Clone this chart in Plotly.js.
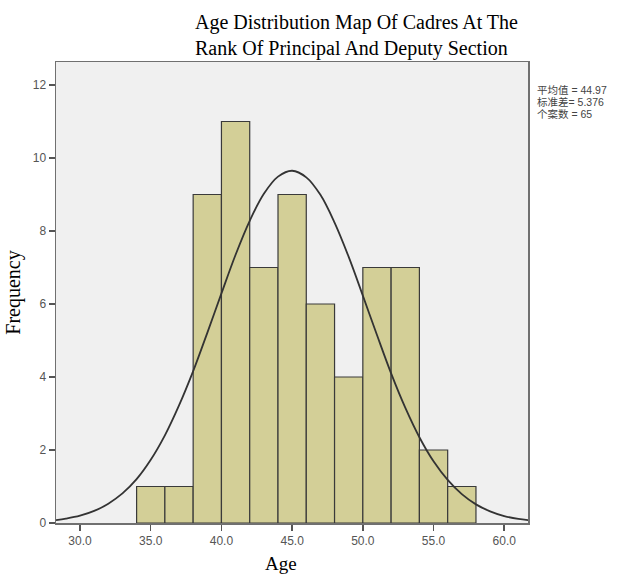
<!DOCTYPE html>
<html>
<head>
<meta charset="utf-8">
<script src="https://cdn.plot.ly/plotly-3.0.1.min.js"></script>
<style>html,body{margin:0;padding:0;background:#fff;}#chart{width:619px;height:574px;}</style>
</head>
<body>
<div id="chart"></div>
<script>
// Histogram bins (age, width 2) and frequencies
const binStarts = [34, 36, 38, 40, 42, 44, 46, 48, 50, 52, 54, 56];
const binWidth = 2;
const counts = [1, 1, 9, 11, 7, 9, 6, 4, 7, 7, 2, 1];

// Fitted normal curve
const curveX = [28.3, 29, 30, 31, 32, 33, 34, 35, 36, 37, 38, 39, 40, 41, 42, 43, 44, 45, 46, 47, 48, 49, 50, 51, 52, 53, 54, 55, 56, 57, 58, 59, 60, 61, 61.7];
const curveY = [0.08, 0.12, 0.20, 0.33, 0.53, 0.81, 1.20, 1.73, 2.40, 3.22, 4.16, 5.21, 6.29, 7.35, 8.28, 9.02, 9.49, 9.65, 9.47, 8.99, 8.23, 7.29, 6.23, 5.15, 4.10, 3.16, 2.35, 1.69, 1.18, 0.79, 0.51, 0.32, 0.19, 0.11, 0.08];

// Tick labels
const xTickVals = [30, 35, 40, 45, 50, 55, 60];
const xTickText = ["30.0", "35.0", "40.0", "45.0", "50.0", "55.0", "60.0"];
const yTickVals = [0, 2, 4, 6, 8, 10, 12];

const statsLines = ["平均值 = 44.97", "标准差= 5.376", "个案数 = 65"];
const titleText = "Age Distribution Map Of Cadres At The<br>Rank Of Principal And Deputy Section";

const centers = binStarts.map(s => s + binWidth / 2);

const traces = [
  {
    type: "bar",
    x: centers,
    y: counts,
    width: binStarts.map(() => binWidth),
    marker: { color: "#d3cf97", line: { color: "#3a3a3a", width: 1.2 } },
    hoverinfo: "x+y"
  },
  {
    type: "scatter",
    mode: "lines",
    x: curveX,
    y: curveY,
    line: { color: "#333333", width: 1.8, shape: "spline" },
    hoverinfo: "skip"
  }
];

const tickFont = { family: "Liberation Sans, Arial, sans-serif", size: 12, color: "#555555" };

const statsAnnotations = statsLines.map((t, i) => ({
  text: t,
  xref: "paper", yref: "paper",
  x: (536 - 56) / 472, y: (523 - (89.5 + i * 12.5)) / 461,
  xanchor: "left", yanchor: "middle",
  align: "left",
  showarrow: false,
  borderpad: 0,
  font: { family: "Liberation Sans, Noto Sans CJK SC, sans-serif", size: 10.5, color: "#444444" }
}));

const layout = {
  width: 619,
  height: 574,
  margin: { l: 56, r: 91, t: 62, b: 51 },
  paper_bgcolor: "#ffffff",
  plot_bgcolor: "#f0f0f0",
  showlegend: false,
  bargap: 0,
  title: {
    text: titleText,
    font: { family: "Liberation Serif, Times New Roman, serif", size: 20, color: "#000000" },
    xref: "container",
    yref: "container",
    x: 195 / 619,
    xanchor: "left",
    y: 1 - 29 / 574,
    yanchor: "top"
  },
  xaxis: {
    range: [28.3, 61.68],
    tickvals: xTickVals,
    ticktext: xTickText,
    ticks: "outside",
    ticklen: 6,
    tickwidth: 1.5,
    tickcolor: "#555555",
    tickfont: tickFont,
    showgrid: false,
    zeroline: false,
    showline: true,
    linecolor: "#707070",
    linewidth: 1.5,
    mirror: true
  },
  yaxis: {
    range: [0, 12.63],
    tickvals: yTickVals,
    ticks: "outside",
    ticklen: 6,
    tickwidth: 1.5,
    tickcolor: "#555555",
    tickfont: tickFont,
    showgrid: false,
    zeroline: false,
    showline: true,
    linecolor: "#707070",
    linewidth: 1.5,
    mirror: true,
    title: {
      text: "Frequency",
      font: { family: "Liberation Serif, Times New Roman, serif", size: 20, color: "#000000" },
      standoff: 6
    }
  },
  annotations: statsAnnotations.concat([
    {
      text: "Age",
      xref: "paper", yref: "paper",
      x: (281 - 56) / 472, y: 0,
      xanchor: "center", yanchor: "top",
      yshift: -28,
      showarrow: false,
      font: { family: "Liberation Serif, Times New Roman, serif", size: 19, color: "#000000" }
    }
  ])
};

Plotly.newPlot("chart", traces, layout, { displayModeBar: false, staticPlot: true });
</script>
</body>
</html>
